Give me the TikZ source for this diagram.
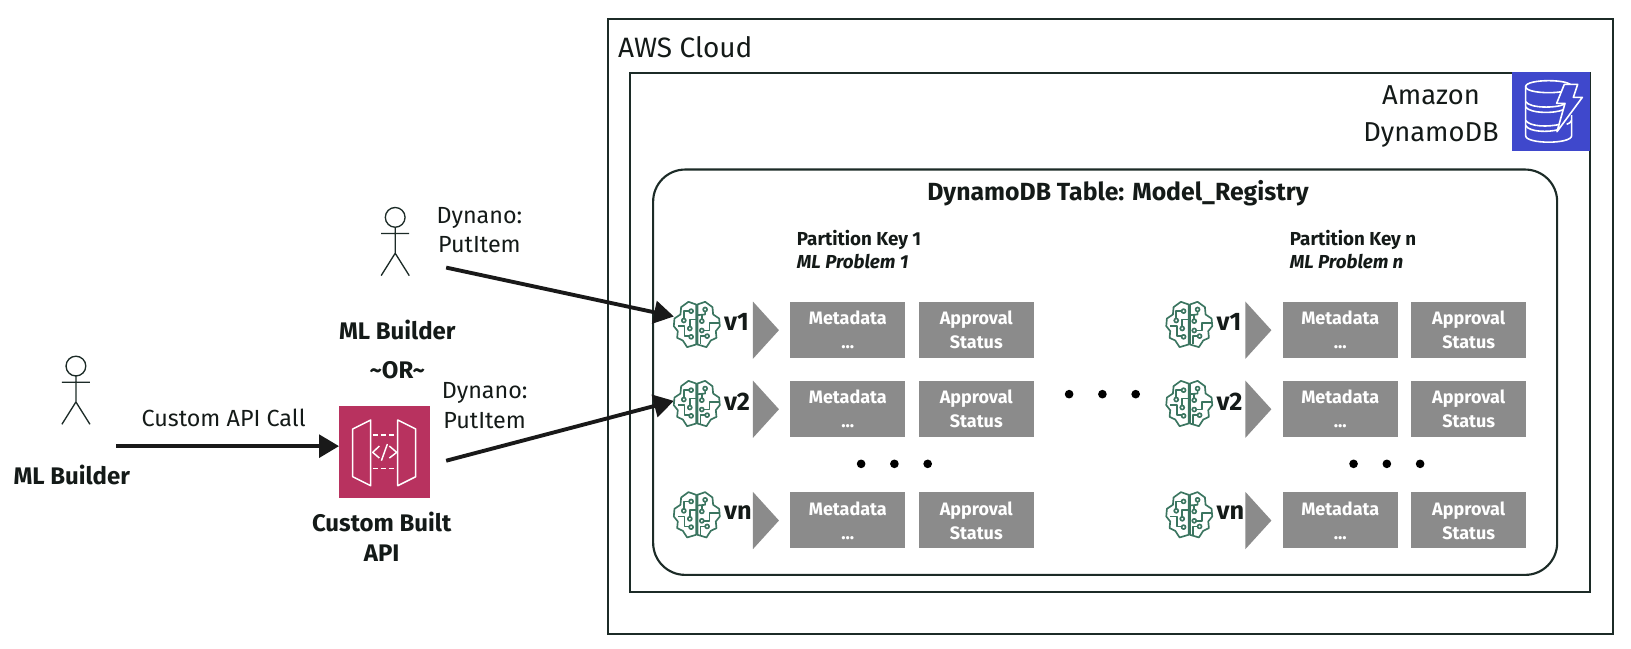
\documentclass[tikz,border=0pt]{standalone}
\usepackage{fontspec}
\setmainfont{Fira Sans}
\usetikzlibrary{arrows.meta}
\definecolor{inkline}{HTML}{1C2B27}
\definecolor{inktext}{HTML}{141A18}
\definecolor{brainc}{HTML}{3B7560}
\definecolor{boxgray}{HTML}{8B8B8B}
\definecolor{apired}{HTML}{B8325F}
\definecolor{dynblue}{HTML}{3F48CC}
\newcommand{\fsz}[1]{\fontsize{#1}{#1}\selectfont}
\tikzset{
  x=0.78pt,y=-0.78pt,
  frame/.style={draw=inkline,line width=1.6pt},
  txt/.style={inner sep=0pt,text=inktext,align=center,font=\fsz{17.5}},
  btxt/.style={txt,font=\fsz{18}\bfseries},
  graybox/.style={fill=boxgray,inner sep=0pt,minimum width=86.5pt,minimum height=42pt,text=white,align=center,font=\fsz{13.5}\bfseries,text depth=0pt},
  ptr/.style={draw=black!90,line width=2.9pt,-{Triangle[length=15pt,width=17pt]}},
  dotmark/.style={circle,fill=black,inner sep=0pt,minimum size=6.5pt},
  brainanchor/.style={inner sep=0pt,minimum size=34pt},
  brain/.pic={
    \begin{scope}[x=0.25pt,y=-0.25pt,shift={(-97,-90)},draw=brainc,line width=1.25pt,line join=round]
      \draw (95,30)--(72,22)--(50,38)--(48,60)--(30,72)--(28,95)--(40,110)--(38,130)--(55,138)--(68,158)--(95,150)--cycle;
      \draw (99,30)--(122,22)--(144,38)--(146,60)--(164,72)--(166,95)--(154,110)--(156,130)--(139,138)--(126,158)--(99,150)--cycle;
      \draw (74,50)--(58,50)--(58,72);
      \draw (76,96)--(76,75)--(95,75);
      \draw (40,95)--(60,95)--(60,125)--(74,125);
      \draw (122,51)--(122,60)--(99,62);
      \draw (112,74)--(112,62);
      \draw (118,108)--(135,108)--(135,85)--(165,85);
      \draw (122,125)--(108,125)--(108,150);
      \foreach \cx/\cy in {80/50,58/78,76/102,80/127,122/45,112/80,112/108,128/125}
        \draw (\cx,\cy) circle[radius=6];
    \end{scope}
  },
  person/.pic={
    \draw[draw=inkline,line width=1pt] (0,0) circle[radius=9.5]
      (-13.5,15.5)--(13.5,15.5) (0,9.5)--(0,34.5) (-13.5,56)--(0,34.5)--(13.5,56);
  }
}
\begin{document}
\begin{tikzpicture}
\useasboundingbox (0,0) rectangle (1568.27,624);
% frames
\node[frame,inner sep=0pt,minimum width=753.5pt,minimum height=461.5pt,anchor=north west] (cloud) at (583.5,17) {};
\node[frame,inner sep=0pt,minimum width=720.3pt,minimum height=389.5pt,anchor=north west] (dyn) at (604.5,69) {};
\node[frame,rounded corners=24pt,inner sep=0pt,minimum width=678pt,minimum height=304pt,anchor=north west] (tbl) at (627,162) {};
\node[txt,font=\fsz{21},anchor=west] (cloudlbl) at (594,45) {AWS Cloud};
\node[txt,font=\fsz{20.5}] (dynlbl) at (1376,112) {Amazon\\[7.5pt]DynamoDB};
% dynamo icon
\node[fill=dynblue,inner sep=0pt,minimum width=58.5pt,minimum height=59.5pt,anchor=north west] (dynicon) at (1454,69) {};
\begin{scope}[shift={(1447.1,62.5)},x=0.25pt,y=-0.25pt,draw=white,line width=1.2pt,line join=round]
  \draw (62,65) .. controls (62,41) and (200,41) .. (200,65) .. controls (200,89) and (62,89) .. (62,65) -- cycle;
  \draw (62,65) -- (62,212) .. controls (62,238) and (200,238) .. (200,212) -- (200,150);
  \draw (62,110) .. controls (75,130) and (150,130) .. (178,118);
  \draw (62,126) .. controls (75,146) and (150,146) .. (175,134);
  \draw (62,166) .. controls (75,186) and (130,186) .. (165,178);
  \draw (62,182) .. controls (75,202) and (130,202) .. (160,194);
  \draw (185,178) .. controls (192,176) and (198,172) .. (200,166);
  \draw[fill=dynblue] (178,58)--(218,58)--(205,97)--(232,97)--(156,200)--(180,115)--(155,115)--cycle;
\end{scope}
\node[txt,font=\fsz{18.6}\bfseries] (tbltitle) at (1075,186) {DynamoDB Table: Model\_Registry};
\node[txt,font=\fsz{14.1}\bfseries,align=left,anchor=north west] (pk1) at (766,221) {Partition Key 1\\[3.5pt]\itshape ML Problem 1};
\node[txt,font=\fsz{14.1}\bfseries,align=left,anchor=north west] (pkn) at (1240,221) {Partition Key n\\[3.5pt]\itshape ML Problem n};
% rows
\foreach \grp/\off in {a/0,b/473.5}{
  \foreach \rid/\lbl/\ytop in {r1/v1/290,r2/v2/366,r3/vn/473}{
    \node[brainanchor] (brain\grp\rid) at ({670+\off},{\ytop+22}) {};
    \pic at (brain\grp\rid.center) {brain};
    \node[txt,font=\fsz{19}\bfseries,anchor=west] (ver\grp\rid) at ({696+\off},{\ytop+20}) {\lbl};
    \fill[boxgray] ({724+\off},\ytop)--({749+\off},{\ytop+27.5})--({724+\off},{\ytop+55})--cycle;
    \node[graybox,anchor=north west] (meta\grp\rid) at ({759.5+\off},\ytop) {\raisebox{1pt}{Metadata}\\[3.5pt]...};
    \node[graybox,anchor=north west] (appr\grp\rid) at ({883+\off},\ytop) {\raisebox{1pt}{Approval}\\[3.5pt]Status};
  }
  \foreach \dx in {828,860,892}
    \node[dotmark] (dot\grp\dx) at ({\dx+\off},446) {};
}
\foreach \dx in {1028,1060,1092}
  \node[dotmark] (mid\dx) at (\dx,379) {};
% left side
\pic at (73,352) {person};
\pic at (380,209) {person};
\node[btxt] (mb1) at (69,457) {ML Builder};
\node[btxt] (mb2) at (382,317) {ML Builder};
\node[btxt] (ortxt) at (382,356) {\textasciitilde OR\textasciitilde};
\node[fill=apired,inner sep=0pt,minimum width=68pt,minimum height=69pt,anchor=north west] (api) at (326,390) {};
\begin{scope}[shift={(288.5,355.8)},x=0.25pt,y=-0.25pt,draw=white,line width=1.1pt,line join=round]
  \draw (212,150)--(158,177)--(158,320)--(212,347)--cycle;
  \draw (293,150)--(347,177)--(347,320)--(293,347)--cycle;
  \draw[dash pattern=on 4pt off 2pt] (218,195)--(290,195) (218,295)--(290,295);
  \draw (238,228)--(218,247)--(238,264) (268,228)--(290,247)--(268,264) (262,222)--(244,272);
\end{scope}
\node[btxt] (apilbl) at (367,516) {Custom Built\\[5pt]API};
\node[txt] (apicall) at (215,402) {Custom API Call};
\node[txt] (put1) at (461,221) {Dynano:\\[4.5pt]PutItem};
\node[txt] (put2) at (466,390) {Dynano:\\[4.5pt]PutItem};
\coordinate (callstart) at (112,429);
\coordinate (put1start) at (429,256);
\coordinate (put2start) at (429,443);
\draw[ptr] (callstart) -- (api.west |- callstart);
\draw[ptr] ([yshift=-1pt]put1start) -- ([yshift=6pt]brainar1.west);
\draw[ptr] (put2start) -- ([yshift=2pt]brainar2.west);
\end{tikzpicture}
\end{document}
